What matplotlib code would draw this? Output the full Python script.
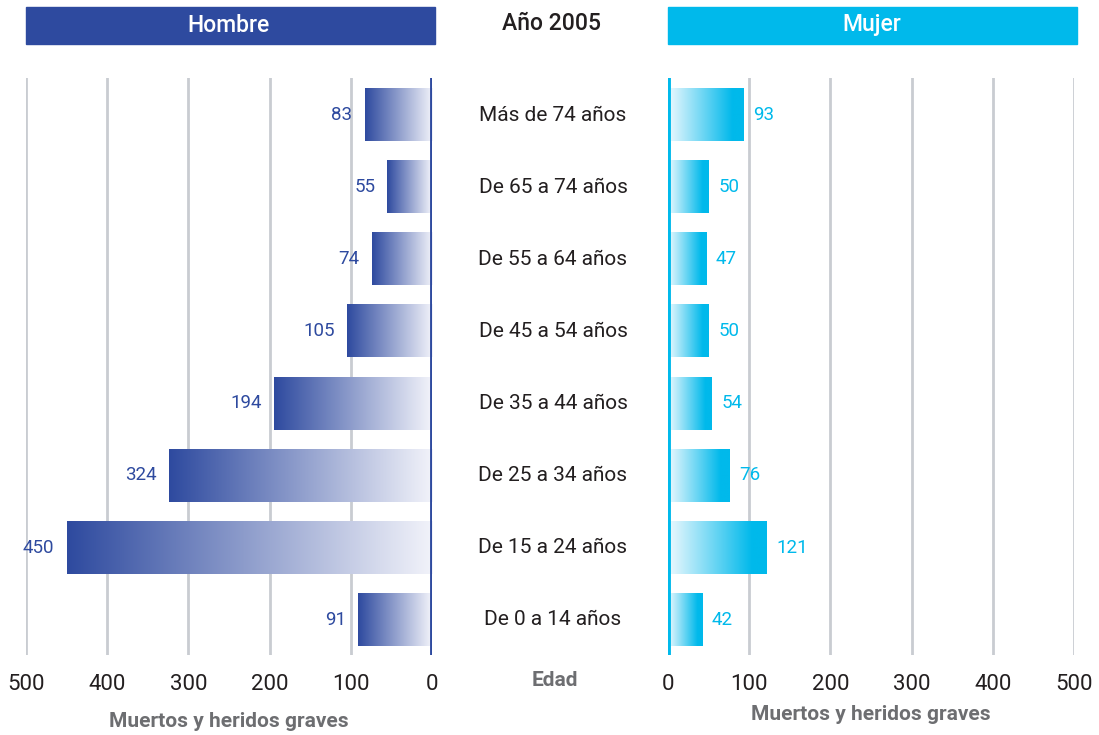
import numpy as np
import matplotlib
matplotlib.use("Agg")
import matplotlib.pyplot as plt
from matplotlib.colors import LinearSegmentedColormap
from matplotlib.patches import Rectangle

plt.rcParams['font.family'] = ['Roboto', 'DejaVu Sans']

edades = ['De 0 a 14 años', 'De 15 a 24 años', 'De 25 a 34 años', 'De 35 a 44 años',
          'De 45 a 54 años', 'De 55 a 64 años', 'De 65 a 74 años', 'Más de 74 años']
hombre = [91, 450, 324, 194, 105, 74, 55, 83]
mujer = [42, 121, 76, 54, 50, 47, 50, 93]
ticks = [0, 100, 200, 300, 400, 500]

azul = '#2E4A9F'
cian = '#00B9EB'
gris = '#C9CCD1'
texto = '#231F20'

cm_h = LinearSegmentedColormap.from_list('h', ['#F2F3FA', azul])
cm_m = LinearSegmentedColormap.from_list('m', [(0, '#EEF9FE'), (0.85, cian), (1, cian)])
grad = np.linspace(0, 1, 256).reshape(1, -1)

W, H = 1099, 735
fig = plt.figure(figsize=(W / 100, H / 100), dpi=100)

def box(x0, x1, y0, y1):
    return [x0 / W, 1 - y1 / H, (x1 - x0) / W, (y1 - y0) / H]

axL = fig.add_axes(box(26, 432, 78, 655))
axR = fig.add_axes(box(668, 1074, 78, 655))
alto = 0.73

for ax, vals, cm, col, lado in [(axL, hombre, cm_h, azul, -1), (axR, mujer, cm_m, cian, 1)]:
    for t in ticks[1:]:
        ax.axvline(t, color=gris, lw=2, zorder=0)
    ax.axvline(0, color=col, lw=3.5, zorder=3)
    for i, v in enumerate(vals):
        if lado < 0:
            ax.imshow(grad[:, ::-1], extent=[v, 0, i - alto / 2, i + alto / 2],
                      cmap=cm, aspect='auto', zorder=2)
            ax.text(v + 15, i, str(v), color=col, fontsize=13.5, ha='right', va='center')
        else:
            ax.imshow(grad, extent=[0, v, i - alto / 2, i + alto / 2],
                      cmap=cm, aspect='auto', zorder=2)
            ax.text(v + 12, i, str(v), color=col, fontsize=13.5, ha='left', va='center')
    if lado < 0:
        ax.set_xlim(500, 0)
    else:
        ax.set_xlim(0, 500)
    ax.set_ylim(-0.49, 7.51)
    ax.set_xticks(ticks)
    ax.set_xticklabels([str(t) for t in ticks], fontsize=16, color=texto)
    ax.tick_params(axis='x', length=0, pad=14)
    ax.set_yticks([])
    for s in ax.spines.values():
        s.set_visible(False)

axL.set_xlabel('Muertos y heridos graves', fontsize=15, color='#6D6E71', fontweight='bold', labelpad=12)
axR.set_xlabel('Muertos y heridos graves', fontsize=15, color='#6D6E71', fontweight='bold', labelpad=7)

# etiquetas de edad en el centro
for i, e in enumerate(edades):
    y = 1 - (619.5 - i * 72.07) / H
    fig.text(553 / W, y, e, fontsize=15, color=texto, ha='center', va='center')
fig.text(555 / W, 1 - 680 / H, 'Edad', fontsize=15, color='#6D6E71', fontweight='bold', ha='center', va='center')

# cabeceras
fig.add_artist(Rectangle((26 / W, 1 - 44 / H), (435 - 26) / W, 37 / H, transform=fig.transFigure, color=azul))
fig.add_artist(Rectangle((668 / W, 1 - 44 / H), (1077 - 668) / W, 37 / H, transform=fig.transFigure, color=cian))
fig.text(228 / W, 1 - 25 / H, 'Hombre', fontsize=16.5, color='white', fontweight='medium', ha='center', va='center')
fig.text(872 / W, 1 - 25 / H, 'Mujer', fontsize=16.5, color='white', fontweight='medium', ha='center', va='center')
fig.text(551 / W, 1 - 23 / H, 'Año 2005', fontsize=16.5, color=texto, fontweight='medium', ha='center', va='center')

fig.savefig('out.png', dpi=100)
